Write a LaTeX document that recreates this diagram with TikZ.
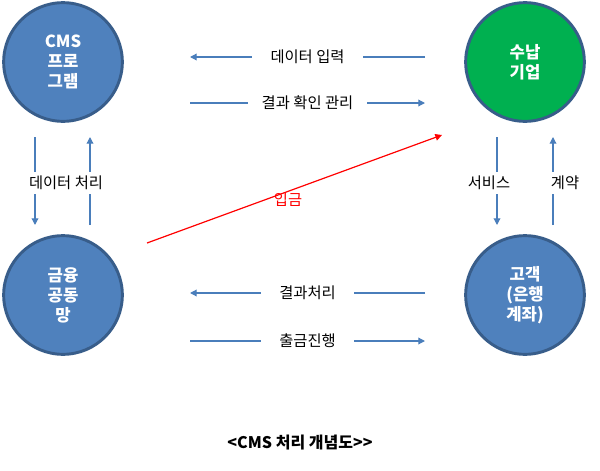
\documentclass[tikz,border=0pt]{standalone}
\usepackage{fontspec}
\setmainfont{Noto Sans CJK KR}
\usetikzlibrary{positioning, arrows.meta}

\definecolor{cblue}{HTML}{4F81BD}
\definecolor{cedge}{HTML}{385D8A}
\definecolor{cgreen}{HTML}{00B050}
\definecolor{carrow}{HTML}{4A7EBB}

\tikzset{
  party/.style={circle, draw=cedge, line width=2.2pt, fill=cblue, minimum size=89pt,
    text=white, font=\bfseries\fontsize{12.5}{15}\selectfont, align=center, inner sep=0pt},
  flow/.style={draw=carrow, line width=0.9pt, -{Triangle[length=5pt,width=5pt]}},
  tag/.style={fill=white, font=\fontsize{11.5}{13}\selectfont, inner sep=3pt}
}

\begin{document}
\begin{tikzpicture}[x=0.75pt,y=-0.75pt]
        \useasboundingbox (0,0) rectangle (600,471);

         % parties
        \node[party] (cms) at (63,62) {CMS\\프로\\그램};
        \node[party, fill=cgreen] (firm) at (525,62) {수납\\기업};
        \node[party] (bank) at (63,295) {금융\\공동\\망};
        \node[party] (cust) at (525,295) {고객\\(은행\\계좌)};

         % top flows
        \coordinate (t1a) at (425,57);  \coordinate (t1b) at (190,57);
        \draw[flow] (t1a) -- node[tag, inner xsep=14pt] {데이터 입력} (t1b);
        \coordinate (t2a) at (190,103); \coordinate (t2b) at (425,103);
        \draw[flow] (t2a) -- node[tag, inner xsep=10pt] {결과 확인 관리} (t2b);

         % left flows
        \coordinate (l1a) at (35,137);  \coordinate (l1b) at (35,225);
        \coordinate (l2a) at (90,225);  \coordinate (l2b) at (90,137);
        \draw[flow] (l1a) -- (l1b);
        \draw[flow] (l2a) -- (l2b);
        \node[tag] (lproc) at (66,183) {데이터 처리};

         % right flows
        \coordinate (r1a) at (497,137); \coordinate (r1b) at (497,225);
        \coordinate (r2a) at (553,225); \coordinate (r2b) at (553,137);
        \draw[flow] (r1a) -- (r1b);
        \draw[flow] (r2a) -- (r2b);
        \node[tag] (serv) at (489,183) {서비스};
        \node[tag] (cont) at (565,183) {계약};

         % deposit
        \coordinate (da) at (147,243);  \coordinate (db) at (442,135);
        \draw[red, line width=0.9pt, -{Triangle[length=5pt,width=5pt]}] (da) -- (db);
        \node[tag, fill=none, text=red] (dep) at (288,200) {입금};

         % bottom flows
        \coordinate (b1a) at (425,293); \coordinate (b1b) at (190,293);
        \draw[flow] (b1a) -- node[tag, inner xsep=14pt] {결과처리} (b1b);
        \coordinate (b2a) at (190,341); \coordinate (b2b) at (425,341);
        \draw[flow] (b2a) -- node[tag, inner xsep=14pt] {출금진행} (b2b);

        \node[font=\bfseries\fontsize{12}{14}\selectfont] (cap) at (300,443) {<CMS 처리 개념도{>}{>}};
      \end{tikzpicture}
\end{document}
